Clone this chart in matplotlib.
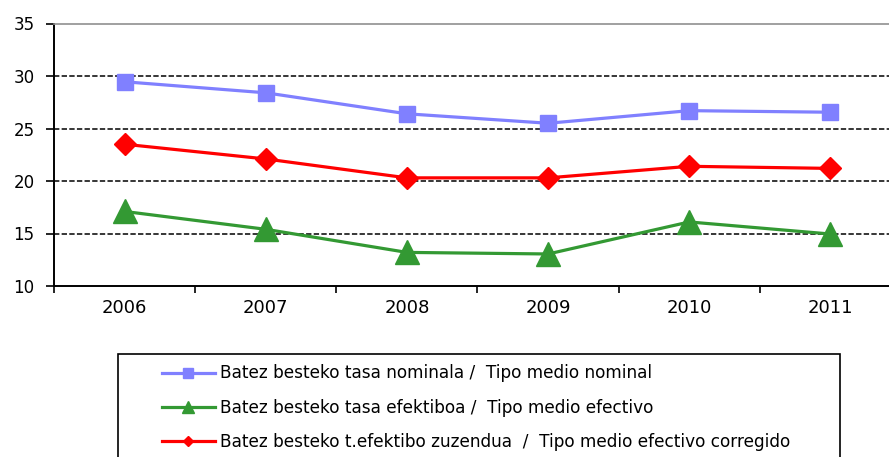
import matplotlib
matplotlib.use('Agg')
import matplotlib.pyplot as plt
from matplotlib.patches import Rectangle
import numpy as np

plt.rcParams['font.family'] = ['DejaVu Sans']

years = ['2006', '2007', '2008', '2009', '2010', '2011']
nominal = [29.45, 28.4, 26.4, 25.5, 26.7, 26.55]
efectivo = [17.1, 15.4, 13.2, 13.05, 16.1, 14.95]
corregido = [23.5, 22.1, 20.3, 20.3, 21.4, 21.2]

labels = ['Batez besteko tasa nominala /  Tipo medio nominal',
          'Batez besteko tasa efektiboa /  Tipo medio efectivo',
          'Batez besteko t.efektibo zuzendua  /  Tipo medio efectivo corregido']

W, H = 889, 457
fig = plt.figure(figsize=(W / 100, H / 100), dpi=100)
# plot area runs a little past the right edge, as in the cropped original
ax = fig.add_axes([54 / W, 1 - 286 / H, (901 - 54) / W, (286 - 23.5) / H])

x = np.arange(len(years))
l1, = ax.plot(x, nominal, color='#8080FF', lw=2.3, marker='s', ms=12, zorder=3)
l2, = ax.plot(x, efectivo, color='#339933', lw=2.3, marker='^', ms=17, zorder=3)
l3, = ax.plot(x, corregido, color='#FF0000', lw=2.3, marker='D', ms=11.5, zorder=3)

ax.set_ylim(10, 35)
ax.set_yticks([10, 15, 20, 25, 30, 35])
ax.set_xlim(-0.5, len(years) - 0.5)
ax.set_xticks(np.arange(-0.5, len(years), 1.0))
ax.set_xticklabels([])
ax.set_xticks(x, minor=True)
ax.set_xticklabels(years, minor=True)
ax.tick_params(axis='x', which='major', length=5, width=1.2, direction='out')
ax.tick_params(axis='x', which='minor', length=0, pad=9.5, labelsize=13)
ax.tick_params(axis='y', length=6, width=1.2, direction='out', pad=8, labelsize=12)

for v in [15, 20, 25, 30]:
    ax.axhline(v, color='black', lw=1.1, ls=(0, (3.5, 1.5)), zorder=1)

ax.spines['left'].set_linewidth(1.4)
ax.spines['bottom'].set_linewidth(1.4)
ax.spines['top'].set_color('#909090')
ax.spines['top'].set_linewidth(1.2)
ax.spines['right'].set_visible(False)

# legend box (cut off at the bottom like the original)
fig.patches.append(Rectangle((117.5 / W, -0.05), (840 - 117.5) / W, 1 - 354 / H + 0.05,
                             transform=fig.transFigure, fill=False,
                             edgecolor='black', lw=1.2))
leg = fig.legend([l1, l2, l3], labels, loc='upper left',
                 bbox_to_anchor=(153.5 / W, 1 - 356 / H), frameon=False,
                 fontsize=12.2, handlelength=3.1,
                 handletextpad=0.33, labelspacing=0.97, borderpad=0)
for h, ms in zip(leg.legend_handles, [7, 8, 5.5]):
    h.set_markersize(ms)

fig.savefig('out.png', dpi=100)
